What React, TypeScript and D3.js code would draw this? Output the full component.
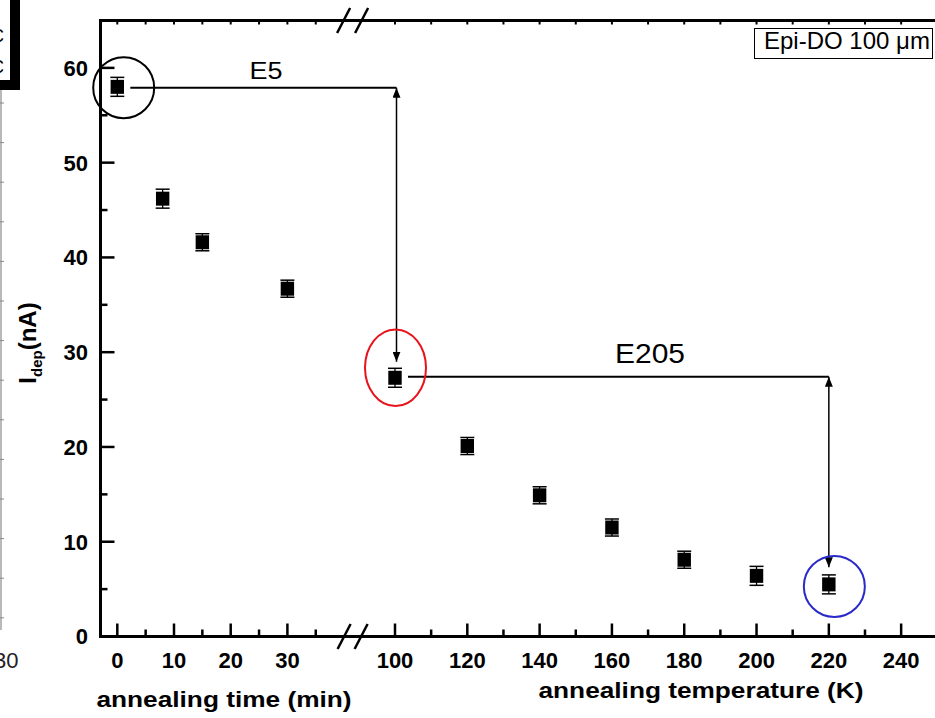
import React from 'react';
import * as d3 from 'd3';

// ---- data ----
const timeMin = [0, 8, 15, 30];
const timeIdep = [58.0, 46.2, 41.6, 36.7];
const timeErr = [1.0, 1.0, 0.9, 0.9];

const tempK = [100, 120, 140, 160, 180, 200, 220];
const tempIdep = [27.3, 20.1, 14.9, 11.5, 8.1, 6.4, 5.5];
const tempErr = [1.0, 0.9, 0.9, 0.9, 0.9, 1.0, 1.0];

const yMajor = [0, 10, 20, 30, 40, 50, 60];
const yMinor = [5, 15, 25, 35, 45, 55, 65];
const timeMajor = [0, 10, 20, 30];
const timeMinor = [5, 15, 25, 35];
const tempMajor = [100, 120, 140, 160, 180, 200, 220, 240];
const tempMinor = [110, 130, 150, 170, 190, 210, 230, 250];

const FONT = "'Liberation Sans', Arial, Helvetica, sans-serif";

export default function App() {
  const W = 935, H = 718;
  const y = d3.scaleLinear().domain([0, 65]).range([636.5, 20.5]);
  const xTime = d3.scaleLinear().domain([0, 40]).range([117.3, 344.1]);
  const xTemp = d3.scaleLinear().domain([100, 250]).range([395, 937.3]);

  const left = 100.5, bottom = y(0), top = y(65);
  const breakX = xTime(41.5);

  const pts = [
    ...timeMin.map((t, i) => ({ x: xTime(t), v: timeIdep[i], e: timeErr[i] })),
    ...tempK.map((t, i) => ({ x: xTemp(t), v: tempIdep[i], e: tempErr[i] })),
  ];

  const ghostTicks = d3.range(103, 630, 39.6);

  const slash = (cx: number, cy: number, k: number) => (
    <line key={k} x1={cx - 6.5} y1={cy + 12.5} x2={cx + 6.5} y2={cy - 12.5} stroke="#000" strokeWidth={2.5} />
  );

  const p0 = { x: xTime(timeMin[0]), y: y(timeIdep[0]) };
  const p100 = { x: xTemp(tempK[0]), y: y(tempIdep[0]) };
  const p220 = { x: xTemp(tempK[6]), y: y(tempIdep[6]) };

  return (
    <svg width={W} height={H} style={{ position: 'absolute', left: 0, top: 0, background: '#fff' }}
      fontFamily={FONT}>
      <defs>
        <marker id="ah" viewBox="0 0 10 8" refX="10" refY="4" markerWidth="10" markerHeight="8"
          markerUnits="userSpaceOnUse" orient="auto-start-reverse">
          <path d="M0,0 L10,4 L0,8 Z" fill="#000" />
        </marker>
      </defs>
      <rect x={0} y={0} width={W} height={H} fill="#fff" />

      {/* remnants of neighbouring figure at left edge */}
      <rect x={0} y={0} width={20} height={90} fill="#000" />
      <rect x={0} y={0} width={10} height={80} fill="#fff" />
      <text x={-9} y={42} fontSize={18} fill="#000">C</text>
      <text x={-9} y={73} fontSize={18} fill="#000">C</text>
      <line x1={1} y1={90} x2={1} y2={630} stroke="#8a8a8a" strokeWidth={1.2} />
      {ghostTicks.map((t, i) => (
        <line key={i} x1={0} y1={t} x2={4} y2={t} stroke="#8a8a8a" strokeWidth={1} />
      ))}
      <text x={18.5} y={668} fontSize={22} textAnchor="end" fill="#222">30</text>

      {/* axes frame */}
      <line x1={left} y1={top} x2={left} y2={bottom + 1} stroke="#000" strokeWidth={3} />
      <line x1={left - 1.5} y1={bottom} x2={W} y2={bottom} stroke="#000" strokeWidth={3} />
      <line x1={left - 1.5} y1={top} x2={W} y2={top} stroke="#000" strokeWidth={3} />

      {/* y ticks */}
      {yMajor.map(v => (
        <g key={'ym' + v}>
          <line x1={left} x2={left + 14} y1={y(v)} y2={y(v)} stroke="#000" strokeWidth={2.5} />
          <text x={88} y={y(v)} dy="0.36em" textAnchor="end" fontSize={22} fontWeight="bold">{v}</text>
        </g>
      ))}
      {yMinor.map(v => (
        <line key={'yn' + v} x1={left} x2={left + 7} y1={y(v)} y2={y(v)} stroke="#000" strokeWidth={2.5} />
      ))}

      {/* bottom ticks time */}
      {timeMajor.map(v => (
        <g key={'tm' + v}>
          <line x1={xTime(v)} x2={xTime(v)} y1={bottom} y2={bottom - 13} stroke="#000" strokeWidth={2.5} />
          <text x={xTime(v)} y={668.3} textAnchor="middle" fontSize={22} fontWeight="bold">{v}</text>
          <line x1={xTime(v)} x2={xTime(v)} y1={top} y2={top + 4} stroke="#000" strokeWidth={2} />
        </g>
      ))}
      {timeMinor.map(v => (
        <g key={'tn' + v}>
          <line x1={xTime(v)} x2={xTime(v)} y1={bottom} y2={bottom - 7} stroke="#000" strokeWidth={2.5} />
          <line x1={xTime(v)} x2={xTime(v)} y1={top} y2={top + 4} stroke="#000" strokeWidth={2} />
        </g>
      ))}
      {/* bottom ticks temperature */}
      {tempMajor.map(v => (
        <g key={'km' + v}>
          <line x1={xTemp(v)} x2={xTemp(v)} y1={bottom} y2={bottom - 13} stroke="#000" strokeWidth={2.5} />
          <text x={xTemp(v)} y={668.3} textAnchor="middle" fontSize={22} fontWeight="bold">{v}</text>
          <line x1={xTemp(v)} x2={xTemp(v)} y1={top} y2={top + 4} stroke="#000" strokeWidth={2} />
        </g>
      ))}
      {tempMinor.map(v => (
        <g key={'kn' + v}>
          <line x1={xTemp(v)} x2={xTemp(v)} y1={bottom} y2={bottom - 7} stroke="#000" strokeWidth={2.5} />
          <line x1={xTemp(v)} x2={xTemp(v)} y1={top} y2={top + 4} stroke="#000" strokeWidth={2} />
        </g>
      ))}

      {/* axis breaks */}
      {slash(breakX - 8.5, bottom, 1)}
      {slash(breakX + 8.5, bottom, 2)}
      {slash(breakX - 9, top, 3)}
      {slash(breakX + 9, top, 4)}

      {/* axis titles */}
      <text x={224} y={707} textAnchor="middle" fontSize={22} fontWeight="bold"
        textLength={255} lengthAdjust="spacingAndGlyphs">annealing time (min)</text>
      <text x={701} y={698} textAnchor="middle" fontSize={22} fontWeight="bold"
        textLength={325} lengthAdjust="spacingAndGlyphs">annealing temperature (K)</text>
      <text transform="translate(36,343) rotate(-90)" textAnchor="middle" fontSize={24} fontWeight="bold">
        I<tspan fontSize={15} dy={6}>dep</tspan><tspan dy={-6}>(nA)</tspan>
      </text>

      {/* annotations */}
      <line x1={p0.x + 13} y1={p0.y + 1} x2={p100.x + 1.5} y2={p0.y + 1} stroke="#000" strokeWidth={2} />
      <line x1={p100.x + 1.5} y1={p0.y + 1} x2={p100.x + 1.5} y2={y(29.0)} stroke="#000" strokeWidth={1.5}
        markerStart="url(#ah)" markerEnd="url(#ah)" />
      <text x={266} y={79.3} textAnchor="middle" fontSize={24} textLength={33} lengthAdjust="spacingAndGlyphs">E5</text>

      <line x1={p100.x + 13} y1={p100.y - 1} x2={p220.x} y2={p100.y - 1} stroke="#000" strokeWidth={2} />
      <line x1={p220.x} y1={p100.y - 1} x2={p220.x} y2={y(7.3)} stroke="#000" strokeWidth={1.5}
        markerStart="url(#ah)" markerEnd="url(#ah)" />
      <text x={650} y={362.7} textAnchor="middle" fontSize={27} textLength={70} lengthAdjust="spacingAndGlyphs">E205</text>

      <ellipse cx={p0.x + 6.4} cy={p0.y + 0.8} rx={30.5} ry={30.5} fill="none" stroke="#000" strokeWidth={2} />
      <ellipse cx={p100.x + 0.5} cy={p100.y - 10} rx={30.5} ry={38.3} fill="none" stroke="#e8141b" strokeWidth={2} />
      <ellipse cx={p220.x + 5.5} cy={p220.y + 2} rx={30.5} ry={30.5} fill="none" stroke="#2a2acb" strokeWidth={2} />

      {/* data points with error bars */}
      {pts.map((p, i) => {
        const y1 = y(p.v - p.e), y2 = y(p.v + p.e), cy = y(p.v);
        return (
          <g key={'p' + i}>
            <line x1={p.x} x2={p.x} y1={y1} y2={y2} stroke="#000" strokeWidth={1.3} />
            <line x1={p.x - 7} x2={p.x + 7} y1={y1} y2={y1} stroke="#000" strokeWidth={1.5} />
            <line x1={p.x - 7} x2={p.x + 7} y1={y2} y2={y2} stroke="#000" strokeWidth={1.5} />
            <rect x={p.x - 6.7} y={cy - 7} width={13.4} height={14} fill="#000" />
          </g>
        );
      })}

      {/* legend */}
      <rect x={754.5} y={28.5} width={178} height={30} fill="#fff" stroke="#000" strokeWidth={1} />
      <text x={764} y={48.5} fontSize={24} fill="#000">Epi-DO 100 μm</text>
    </svg>
  );
}
